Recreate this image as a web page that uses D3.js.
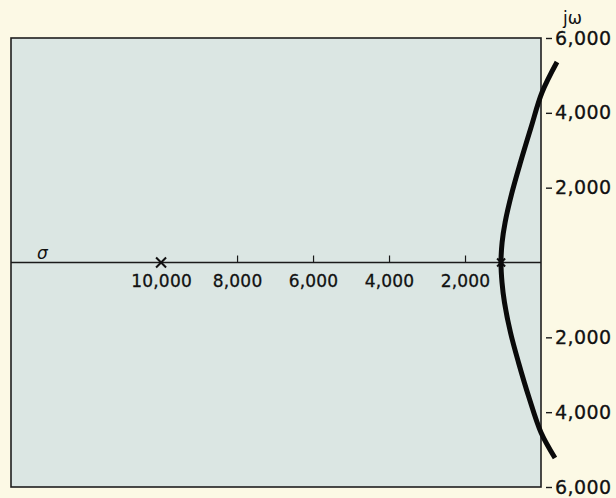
<!DOCTYPE html>
<html>
<head>
<meta charset="utf-8">
<script src="https://cdn.jsdelivr.net/npm/d3@7"></script>
<style>
  html, body { margin: 0; padding: 0; background: #fcf9e5; }
  svg { display: block; }
  text { font-family: "DejaVu Sans", sans-serif; fill: #111; }
</style>
</head>
<body>
<svg id="chart" width="616" height="498"></svg>
<script>
// ---- data ----
const sigmaDomain = [-13950, 0];
const omegaDomain = [-6000, 6000];
const sigmaTickValues = [-8000, -6000, -4000, -2000];
const sigmaLabelValues = [-10000, -8000, -6000, -4000, -2000];
const omegaTickValues = [6000, 4000, 2000, -2000, -4000, -6000];
const poles = [[-10000, 0], [-1050, 0]];
// root locus branch: [sigma, omega]
const locusSigma = [421, 26, -263, -542, -763, -945, -1024, -1053, -1026, -961, -803, -592, -316, 0, 368];
const locusOmega = [5358, 4543, 3608, 2672, 1871, 1069, 534, 0, -534, -1069, -1871, -2672, -3608, -4543, -5224];

// ---- layout ----
const svg = d3.select("#chart");
const box = {left: 11, right: 541, top: 38, bottom: 487};
const x = d3.scaleLinear().domain(sigmaDomain).range([box.left, box.right]);
const y = d3.scaleLinear().domain(omegaDomain).range([box.bottom, box.top]);
const fmt = d3.format(",");

// plot area
svg.append("rect")
  .attr("x", box.left).attr("y", box.top)
  .attr("width", box.right - box.left).attr("height", box.bottom - box.top)
  .attr("fill", "#dbe6e3").attr("stroke", "#1e1e1e").attr("stroke-width", 1.6);

// sigma axis line
svg.append("line")
  .attr("x1", box.left).attr("x2", box.right)
  .attr("y1", y(0)).attr("y2", y(0))
  .attr("stroke", "#1a1a1a").attr("stroke-width", 1.6);

// sigma tick marks (upwards)
const xTicks = svg.append("g").attr("transform", `translate(0,${y(0)})`)
  .call(d3.axisTop(x).tickValues(sigmaTickValues).tickSize(7).tickFormat(""));
xTicks.select(".domain").remove();
xTicks.selectAll(".tick line").attr("stroke", "#1a1a1a").attr("stroke-width", 1.2);

// sigma labels (below)
const xLabels = svg.append("g").attr("transform", `translate(0,${y(0)})`)
  .call(d3.axisBottom(x).tickValues(sigmaLabelValues).tickSize(0).tickPadding(12)
        .tickFormat(d => fmt(Math.abs(d))));
xLabels.select(".domain").remove();
xLabels.selectAll(".tick line").remove();
xLabels.selectAll("text")
  .attr("font-family", "DejaVu Sans, sans-serif")
  .attr("font-size", 17).attr("letter-spacing", 0.2).attr("fill", "#111")
  .attr("stroke", "#111").attr("stroke-width", 0.3);

// omega axis ticks + labels (right, outside box)
const yAxis = svg.append("g").attr("transform", `translate(546,0)`)
  .call(d3.axisRight(y).tickValues(omegaTickValues).tickSize(6).tickPadding(3)
        .tickFormat(d => fmt(Math.abs(d))));
yAxis.select(".domain").remove();
yAxis.selectAll(".tick line").attr("stroke", "#1a1a1a").attr("stroke-width", 1.4);
yAxis.selectAll("text")
  .attr("font-family", "DejaVu Sans, sans-serif")
  .attr("font-size", 19).attr("letter-spacing", 0.4).attr("fill", "#111")
  .attr("stroke", "#111").attr("stroke-width", 0.3);

// axis names
svg.append("text").attr("x", 563).attr("y", 24)
  .attr("font-size", 17).text("jω");
svg.append("text").attr("x", 37).attr("y", 259)
  .attr("font-size", 17).attr("font-style", "italic").text("σ");

// poles (x marks)
const poleSize = [5, 4];
poles.forEach((p, i) => {
  const cx = x(p[0]), cy = y(p[1]), s = poleSize[i];
  svg.append("path")
    .attr("d", `M${cx - s},${cy - s}L${cx + s},${cy + s}M${cx - s},${cy + s}L${cx + s},${cy - s}`)
    .attr("stroke", "#111").attr("stroke-width", 2).attr("fill", "none");
});

// root locus curve
const locus = locusSigma.map((s, i) => [s, locusOmega[i]]);
svg.append("path")
  .datum(locus)
  .attr("d", d3.line().x(d => x(d[0])).y(d => y(d[1])).curve(d3.curveCatmullRom.alpha(0.5)))
  .attr("fill", "none").attr("stroke", "#0a0a0a").attr("stroke-width", 5)
  .attr("stroke-linecap", "butt");
</script>
</body>
</html>
